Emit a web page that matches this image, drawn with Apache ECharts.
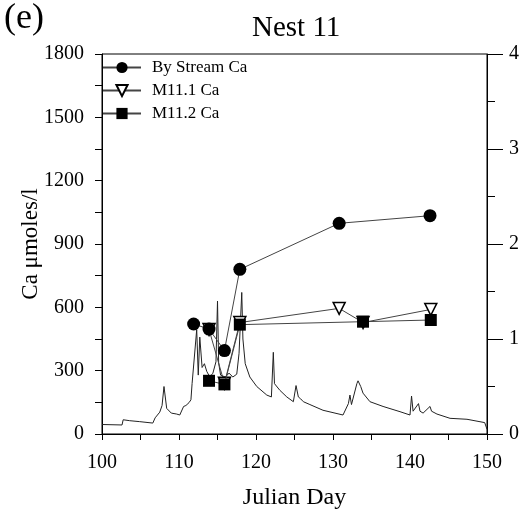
<!DOCTYPE html>
<html>
<head>
<meta charset="utf-8">
<script src="https://cdn.jsdelivr.net/npm/echarts@6/dist/echarts.min.js"></script>
<style>
  html, body { margin: 0; padding: 0; background: #fff; }
  #chart { width: 529px; height: 514px; }
</style>
</head>
<body>
<div id="chart"></div>
<script>
// Ca samples (left axis, µmoles/l)
const byStreamDay = [111.9, 113.9, 115.9, 117.9, 130.8, 142.6];
const byStreamCa = [521, 497, 395, 780, 998, 1034];
const m111Day = [113.9, 115.9, 117.9, 130.8, 133.9, 142.7];
const m111Ca = [495, 240, 528, 595, 528, 590];
const m112Day = [113.9, 115.9, 117.9, 133.9, 142.7];
const m112Ca = [252, 235, 518, 532, 540];

// stream hydrograph (right axis)
const flowDay = [100.0, 102.6, 102.75, 103.6, 104.9, 106.6, 106.9, 107.5, 107.8, 108.05,
  108.4, 109.0, 109.7, 110.1, 110.6, 110.9, 111.3, 111.55, 111.7, 111.95,
  112.3, 112.5, 112.7, 113.0, 113.3, 113.6, 114.0, 114.4, 114.8, 115.0,
  115.15, 115.4, 116.0, 116.5, 117.0, 117.5, 117.8, 118.15, 118.3, 118.6,
  119.2, 120.1, 121.4, 122.0, 122.25, 122.4, 123.1, 124.0, 124.85, 125.2,
  125.5, 125.8, 126.15, 127.0, 128.7, 131.3, 131.5, 132.0, 132.2, 132.4,
  132.6, 133.1, 133.25, 133.4, 133.6, 133.9, 134.8, 136.5, 138.7, 140.0,
  140.2, 140.4, 141.1, 141.3, 141.7, 142.6, 142.8, 143.5, 145.2, 147.4,
  149.7, 150.0];
const flowVal = [0.10, 0.095, 0.15, 0.14, 0.13, 0.115, 0.17, 0.23, 0.30, 0.50,
  0.27, 0.22, 0.21, 0.20, 0.29, 0.30, 0.33, 0.36, 0.53, 0.55,
  1.10, 0.62, 1.02, 0.70, 0.74, 0.66, 0.60, 0.64, 0.76, 1.40,
  0.75, 0.62, 0.60, 0.64, 0.60, 0.63, 0.85, 1.49, 1.00, 0.74,
  0.60, 0.50, 0.41, 0.39, 0.86, 0.53, 0.46, 0.39, 0.34, 0.51,
  0.39, 0.37, 0.34, 0.31, 0.25, 0.20, 0.21, 0.32, 0.41, 0.31,
  0.33, 0.53, 0.56, 0.55, 0.50, 0.43, 0.34, 0.29, 0.235, 0.20,
  0.40, 0.24, 0.32, 0.24, 0.22, 0.29, 0.24, 0.21, 0.165, 0.155,
  0.12, 0.05];

const zip = (xs, ys) => xs.map((x, i) => [x, ys[i]]);
const FONT = "'Liberation Serif', 'Times New Roman', serif";
const plain = (v) => String(v);

const chart = echarts.init(document.getElementById('chart'));

const lineStyle = { color: '#444', width: 1 };
const black = { color: '#000' };

chart.setOption({
  animation: false,
  textStyle: { fontFamily: FONT, color: '#000' },
  title: {
    text: 'Nest 11',
    left: 247,
    top: 9,
    textStyle: { fontFamily: FONT, fontSize: 29, fontWeight: 'normal', color: '#000' }
  },
  graphic: [{
    type: 'text', left: 4, top: 1,
    style: { text: '(e)', font: `36px ${FONT}`, fill: '#000' }
  }],
  legend: {
    orient: 'vertical',
    left: 102,
    top: 59,
    padding: 0,
    itemWidth: 38,
    itemHeight: 14,
    itemGap: 6,
    textStyle: { fontFamily: FONT, fontSize: 17, color: '#000', padding: [0, 0, 0, 6] },
    data: ['By Stream Ca', 'M11.1 Ca', 'M11.2 Ca']
  },
  grid: {
    left: 102, right: 42, top: 54, bottom: 80,
    outerBoundsMode: 'none',
    show: true, borderColor: '#000', borderWidth: 1
  },
  xAxis: {
    type: 'value', min: 100, max: 150, interval: 10,
    name: 'Julian Day', nameLocation: 'middle', nameGap: 52, nameMoveOverlap: false,
    nameTextStyle: { fontFamily: FONT, fontSize: 24, color: '#000' },
    axisLine: { lineStyle: black },
    axisTick: { inside: false, length: 6, lineStyle: black },
    minorTick: { show: true, splitNumber: 2, length: 6, lineStyle: black },
    splitLine: { show: false },
    axisLabel: { fontFamily: FONT, fontSize: 20, color: '#000', margin: 19, formatter: plain }
  },
  yAxis: [{
    type: 'value', min: 0, max: 1800, interval: 300, position: 'left',
    name: 'Ca \u03bcmoles/l', nameLocation: 'middle', nameRotate: 90, nameGap: 60,
    nameMoveOverlap: false,
    nameTextStyle: { fontFamily: FONT, fontSize: 23, color: '#000' },
    axisLine: { show: true, lineStyle: black },
    axisTick: { show: true, inside: false, length: 7, lineStyle: black },
    minorTick: { show: true, splitNumber: 2, length: 7, lineStyle: black },
    splitLine: { show: false },
    axisLabel: { fontFamily: FONT, fontSize: 20, color: '#000', margin: 18, formatter: plain }
  }, {
    type: 'value', min: 0, max: 4, interval: 1, position: 'right',
    axisLine: { show: true, lineStyle: black },
    axisTick: { show: true, inside: false, length: 16, lineStyle: black },
    minorTick: { show: true, splitNumber: 2, length: 8, lineStyle: black },
    splitLine: { show: false },
    axisLabel: { fontFamily: FONT, fontSize: 20, color: '#000', margin: 22, formatter: plain }
  }],
  series: [{
    name: 'flow',
    type: 'line',
    yAxisIndex: 1,
    data: zip(flowDay, flowVal),
    showSymbol: false,
    symbol: 'none',
    lineStyle: { color: '#222', width: 1 },
    z: 1
  }, {
    name: 'M11.1 Ca',
    type: 'line',
    data: zip(m111Day, m111Ca),
    symbol: 'triangle',
    symbolRotate: 180,
    symbolSize: 12,
    itemStyle: { color: '#fff', borderColor: '#000', borderWidth: 1.5 },
    lineStyle,
    z: 2
  }, {
    name: 'M11.2 Ca',
    type: 'line',
    data: zip(m112Day, m112Ca),
    symbol: 'rect',
    symbolSize: 12,
    itemStyle: { color: '#000' },
    lineStyle,
    z: 3
  }, {
    name: 'By Stream Ca',
    type: 'line',
    data: zip(byStreamDay, byStreamCa),
    symbol: 'circle',
    symbolSize: 13,
    itemStyle: { color: '#000' },
    lineStyle,
    z: 4
  }]
});
</script>
</body>
</html>
